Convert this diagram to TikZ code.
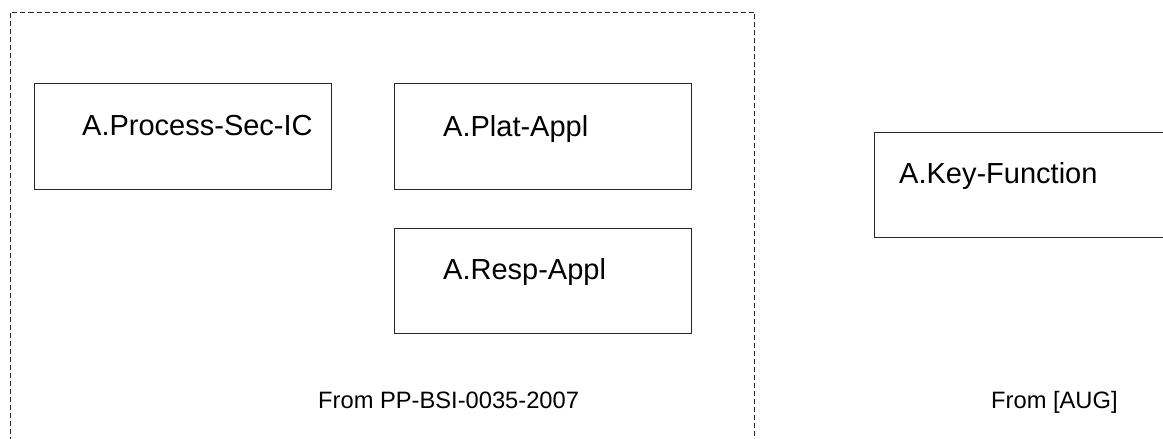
\documentclass[tikz,border=0pt]{standalone}
\usepackage{fontspec}
\setmainfont{Liberation Sans}
\begin{document}
\begin{tikzpicture}[x=1pt,y=-1pt,
  abox/.style={draw=black!85,line width=1pt,rectangle,inner sep=0pt,anchor=north west},
  alabel/.style={anchor=base west,inner sep=0pt,font=\fontsize{29}{34}\selectfont},
  srclabel/.style={anchor=base west,inner sep=0pt,font=\fontsize{23.7}{28}\selectfont},
  frame/.style={draw=black!85,line width=0.9pt,dash pattern=on 5pt off 3pt}]
\useasboundingbox (0,0) rectangle (1163,439);
\clip (0,0) rectangle (1163,439);
\fill[white] (0,0) rectangle (1163,439);
% dashed frame
\coordinate (fbl) at (10.5,450);
\coordinate (ftl) at (10.5,12);
\coordinate (ftr) at (754,12);
\coordinate (fbr) at (754,450);
\draw[frame] (fbl) -- (ftl) -- (ftr) -- (fbr);
% boxes
\node[abox,minimum width=297pt,minimum height=106pt] (proc) at (34,83) {};
\node[abox,minimum width=297pt,minimum height=106pt] (plat) at (394,83) {};
\node[abox,minimum width=297pt,minimum height=105pt] (resp) at (394,228) {};
\node[abox,minimum width=320pt,minimum height=105pt] (key) at (874,132) {};
% labels
\node[alabel] (procl) at (82,135) {A.Process-Sec-IC};
\node[alabel] (platl) at (443,136) {A.Plat-Appl};
\node[alabel] (respl) at (443,279) {A.Resp-Appl};
\node[alabel] (keyl) at (899,183) {A.Key-Function};
\node[srclabel] (src1) at (318,408) {From PP-BSI-0035-2007};
\node[srclabel] (src2) at (991,408) {From [AUG]};
\end{tikzpicture}
\end{document}
